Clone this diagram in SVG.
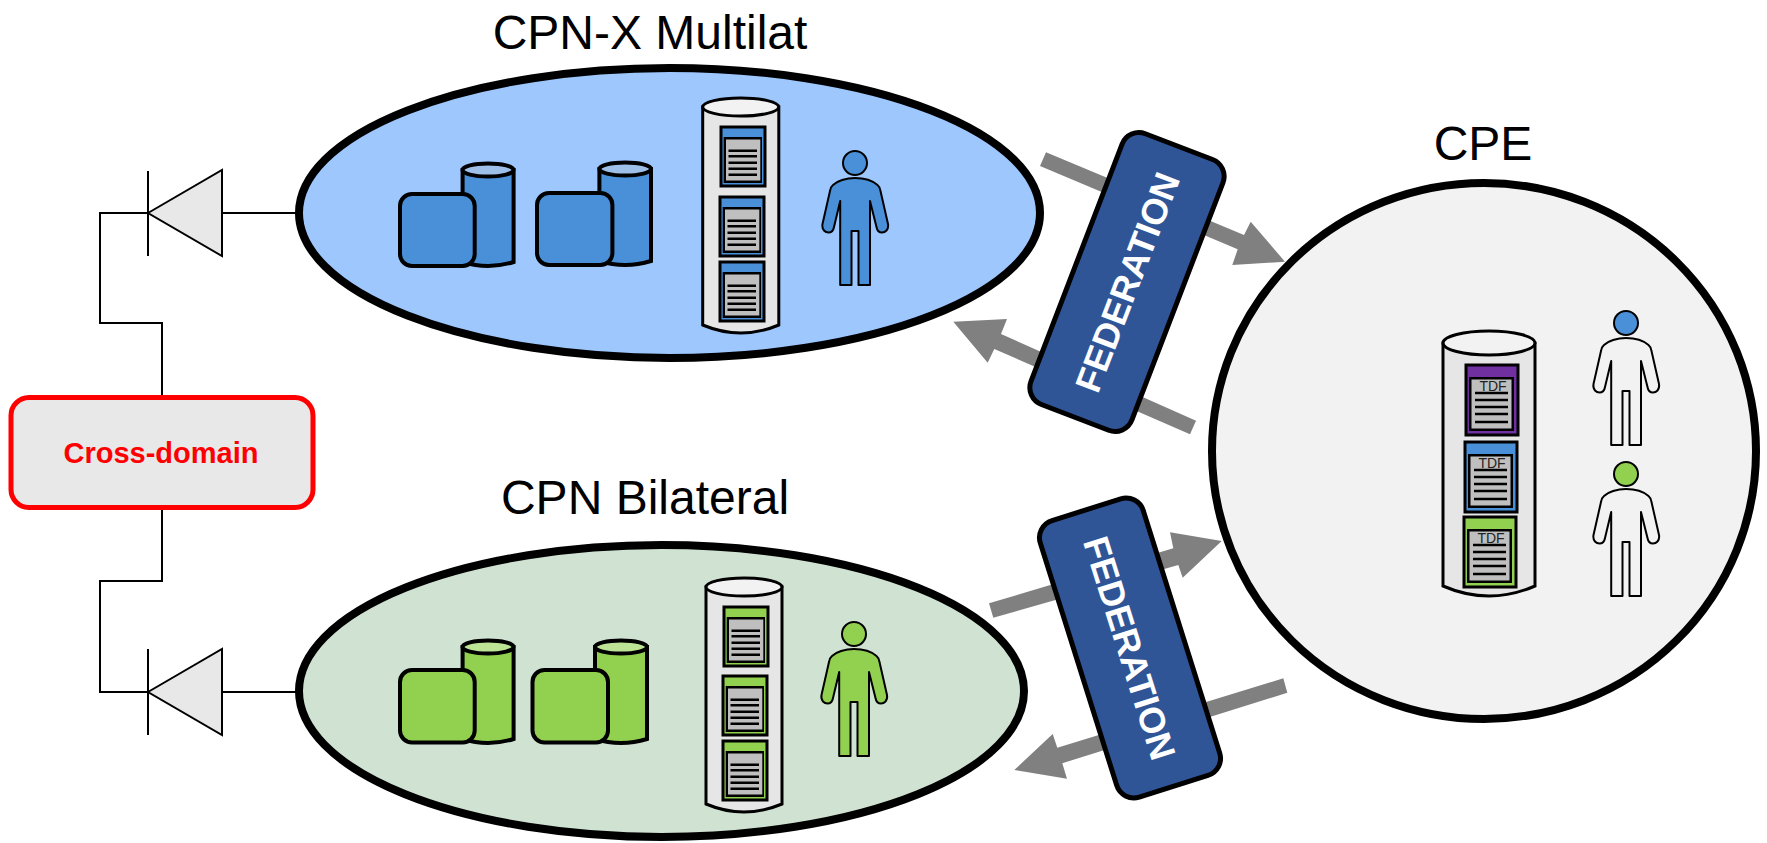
<svg xmlns="http://www.w3.org/2000/svg" width="1767" height="843" viewBox="0 0 1767 843">
<style>
text{font-family:"Liberation Sans",Arial,sans-serif}
.title{font-size:48px;text-anchor:middle;fill:#000}
.fed{font-size:36px;font-weight:700;fill:#fff;text-anchor:middle}
.big{stroke:#000;stroke-width:8}
.wire{fill:none;stroke:#000;stroke-width:2}
.tri{fill:#e8e8e8;stroke:#000;stroke-width:2;stroke-linejoin:miter}
.flow{fill:#808080}
.ic{stroke:#000;stroke-width:4}
.tall{fill:#e6e6e6;stroke:#000;stroke-width:3}
.tall-top{fill:#f2f2f2;stroke:#000;stroke-width:3}
.person{stroke:#000;stroke-width:2;stroke-linejoin:round}
.blue{fill:#4a90d9}.green{fill:#92d050}.purple{fill:#7030a0}
.tdf{font-size:14px;text-anchor:middle;fill:#222}
</style>
<defs>
<g id="doc">
<rect x="0" y="0" width="44" height="59" stroke="#000" stroke-width="3"/>
<rect x="2.700" y="10" width="38.300" height="46" fill="#000"/>
<rect x="5" y="12.500" width="34.300" height="41" fill="#bfbfbf"/>
<path d="M7.500 23.700H36M7.500 29.300H36M7.500 35.700H36M7.500 41.700H36M7.500 47.700H36" fill="none" stroke="#000" stroke-width="2.500"/>
</g>
<g id="doc2">
<rect x="0" y="0" width="52" height="70" stroke="#000" stroke-width="3"/>
<rect x="3" y="12" width="45" height="54" fill="#000"/>
<rect x="5.500" y="14.500" width="40" height="49" fill="#bfbfbf"/>
<path d="M9 28H42M9 35H42M9 42H42M9 49H42M9 57H42" fill="none" stroke="#000" stroke-width="2.500"/>
<text class="tdf" x="27" y="26">TDF</text>
</g>
<path id="body" d="M0 15C-9 15 -18 18 -22 22Q-24.500 24 -25 28L-32.500 61C-33.500 67 -29.500 69.500 -26.500 69.500C-23.500 69.500 -21.500 67 -21 64L-14.800 38V122H-3.500V68H3.500V122H15V38L21.500 64C22 67 24 69.500 27 69.500C30 69.500 34 67 33 61L25.500 28Q25 24 22.500 22C18 18 9 15 0 15Z"/>
</defs>
<g id="connectors">
<path class="wire" d="M299 213H222M148 213H100V323H162V397"/>
<path class="wire" d="M162 508V581H100V692H148M222 692H299"/>
<polygon class="flow" points="1046,152.300 1040,166 1237.700,249.300 1232.300,265 1285,261.700 1250.700,221.700 1244,235"/>
<polygon class="flow" points="1196,420.700 1190,434.300 994.300,349 987.700,362.700 953.300,321.700 1007,319 1001,334"/>
<polygon class="flow" points="989,603.300 993.300,617.700 1178.300,565 1182.700,577.700 1221.700,541 1170,532.300 1173.300,548.300"/>
<polygon class="flow" points="1283.300,678.300 1287.300,692.700 1062.300,763.300 1067,778.700 1014.300,770 1052.700,734 1057.300,747.700"/>
</g>
<g id="diode-top">
<polygon class="tri" points="148,213 222,170 222,256"/>
<path class="wire" d="M148 171V256"/>
</g>
<g id="diode-bottom">
<polygon class="tri" points="148,692 222,649 222,735"/>
<path class="wire" d="M148 649V735"/>
</g>
<g id="cross-domain">
<rect x="11" y="397.500" width="302" height="110" rx="18" fill="#e8e8e8" stroke="#f00" stroke-width="5"/>
<text x="161" y="463" font-size="29" font-weight="700" fill="#f00" text-anchor="middle">Cross-domain</text>
</g>
<g id="cpn-x-multilat">
<text class="title" x="650" y="49">CPN-X Multilat</text>
<ellipse class="big" cx="669.500" cy="213" rx="370.500" ry="145" fill="#9dc7fd"/>
<g class="ic">
<path class="blue" d="M462.600 170V262Q488 270 513.600 262V170Z"/><ellipse cx="488" cy="170" rx="25.500" ry="6.500" fill="#9dbfe8"/>
<rect class="blue" x="400" y="194" width="74.700" height="72" rx="12"/>
<path class="blue" d="M599.400 169V261Q625 269 651 261V169Z"/><ellipse cx="625.200" cy="169" rx="25.800" ry="6.500" fill="#9dbfe8"/>
<rect class="blue" x="537" y="193" width="75.400" height="72" rx="12"/>
</g>
<path class="tall" d="M702.700 107V325Q741 341 778.800 325V107Z"/><ellipse class="tall-top" cx="740.700" cy="107" rx="38" ry="9"/>
<use href="#doc" class="blue" x="721" y="127"/>
<use href="#doc" class="blue" x="720" y="197"/>
<use href="#doc" class="blue" x="720" y="262"/>
<g class="person blue" transform="translate(855 163)"><circle r="12"/><use href="#body"/></g>
</g>
<g id="cpn-bilateral">
<text class="title" x="645" y="514">CPN Bilateral</text>
<ellipse class="big" cx="661.500" cy="691" rx="362.500" ry="146" fill="#d0e3d2"/>
<g class="ic">
<path class="green" d="M462.600 647V739Q488 747 513.600 739V647Z"/><ellipse cx="488" cy="647" rx="25.500" ry="6.500" fill="#bde394"/>
<rect class="green" x="400" y="670" width="74.700" height="72.500" rx="12"/>
<path class="green" d="M595 647V739Q621 747 647 739V647Z"/><ellipse cx="621" cy="647" rx="26" ry="6.500" fill="#bde394"/>
<rect class="green" x="532.500" y="670" width="75.500" height="72.500" rx="12"/>
</g>
<path class="tall" d="M706 587V804Q744 820 782 804V587Z"/><ellipse class="tall-top" cx="744" cy="587" rx="38" ry="9"/>
<use href="#doc" class="green" x="724" y="607"/>
<use href="#doc" class="green" x="723" y="676"/>
<use href="#doc" class="green" x="723" y="741"/>
<g class="person green" transform="translate(854 634)"><circle r="12"/><use href="#body"/></g>
</g>
<g id="cpe">
<text class="title" x="1483" y="160">CPE</text>
<ellipse class="big" cx="1484" cy="451" rx="272" ry="268" fill="#f2f2f2"/>
<path class="tall" d="M1443 343V586Q1489 606 1535 586V343Z"/><ellipse class="tall-top" cx="1489" cy="343" rx="46" ry="12"/>
<use href="#doc2" class="purple" x="1466" y="365"/>
<use href="#doc2" class="blue" x="1465" y="442"/>
<use href="#doc2" class="green" x="1464" y="517"/>
<g class="person" fill="#f2f2f2" transform="translate(1626 323)"><circle class="blue" r="12"/><use href="#body"/></g>
<g class="person" fill="#f2f2f2" transform="translate(1626 474)"><circle class="green" r="12"/><use href="#body"/></g>
</g>
<g id="federation-top" transform="translate(1127 282) rotate(21)">
<rect x="-54" y="-145" width="108" height="290" rx="18" fill="#2f5597" stroke="#000" stroke-width="5"/>
<text class="fed" transform="rotate(-90)" y="13">FEDERATION</text>
</g>
<g id="federation-bottom" transform="translate(1130 648) rotate(-17.500)">
<rect x="-54" y="-145" width="108" height="290" rx="18" fill="#2f5597" stroke="#000" stroke-width="5"/>
<text class="fed" transform="rotate(90)" y="13">FEDERATION</text>
</g>
</svg>
